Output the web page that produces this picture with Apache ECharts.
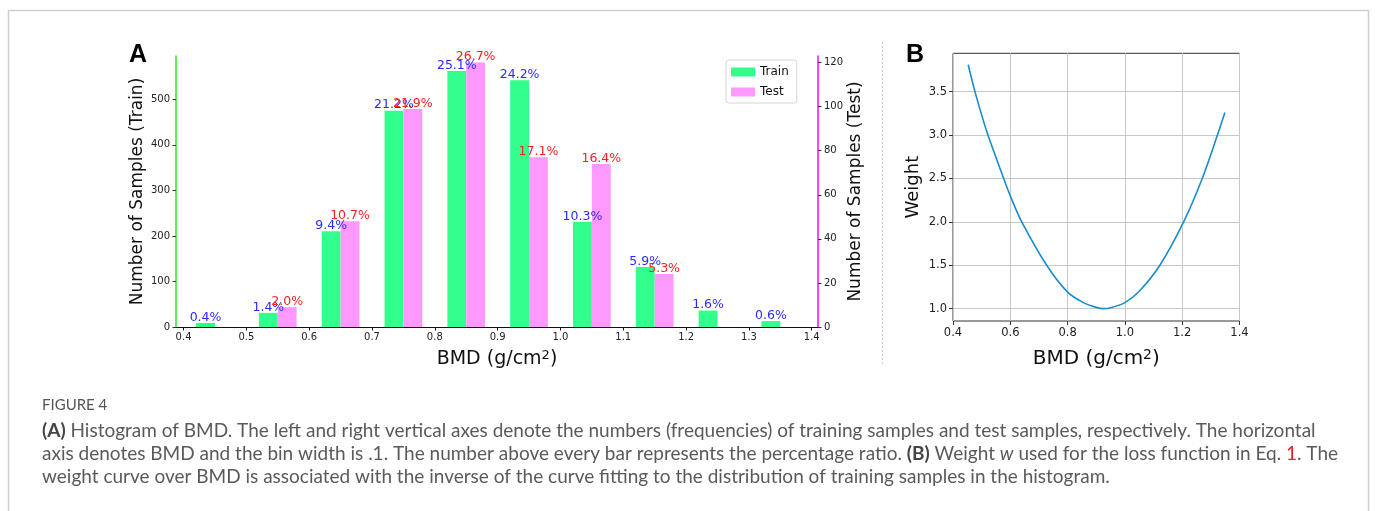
<!DOCTYPE html>
<html>
<head>
<meta charset="utf-8">
<script src="https://cdn.jsdelivr.net/npm/echarts@6/dist/echarts.min.js"></script>
<style>
html,body{margin:0;padding:0;background:#fff;}
#c{width:1375px;height:511px;}
</style>
</head>
<body>
<div id="c"></div>
<script>
// ---- Data (panel A) ----
const binStarts   = [0.4, 0.5, 0.6, 0.7, 0.8, 0.9, 1.0, 1.1, 1.2, 1.3];
const trainCounts = [9, 31, 210, 475, 562, 542, 231, 132, 36, 13];
const trainPct    = ['0.4%', '1.4%', '9.4%', '21.2%', '25.1%', '24.2%', '10.3%', '5.9%', '1.6%', '0.6%'];
const testBins    = [0.5, 0.6, 0.7, 0.8, 0.9, 1.0, 1.1];
const testCounts  = [9, 48, 99, 120, 77, 74, 24];
const testPct     = ['2.0%', '10.7%', '21.9%', '26.7%', '17.1%', '16.4%', '5.3%'];
const xTicksA     = [0.4, 0.5, 0.6, 0.7, 0.8, 0.9, 1.0, 1.1, 1.2, 1.3, 1.4];
const yTicksTrain = [0, 100, 200, 300, 400, 500];
const yTicksTest  = [0, 20, 40, 60, 80, 100, 120];

// ---- Data (panel B) ----
const bmdB    = [0.453, 0.48, 0.52, 0.577, 0.6, 0.64, 0.727, 0.8, 0.855, 0.9, 0.924, 0.95, 1.0, 1.05, 1.122, 1.205, 1.27, 1.323, 1.349];
const weightB = [3.81, 3.46, 3.02, 2.5, 2.3, 2.0, 1.5, 1.19, 1.07, 1.015, 1.0, 1.01, 1.07, 1.2, 1.5, 2.0, 2.5, 3.0, 3.26];
const yTicksB = [1.0, 1.5, 2.0, 2.5, 3.0, 3.5];

const GREEN = '#33ff8c', PINK = '#ff99ff';
const FONT = 'DejaVu Sans';

function barRenderer(off0, off1, labels, labelColor) {
  return function (params, api) {
    const b = api.value(0), v = api.value(1);
    const p0 = api.coord([b + off0, v]);
    const p1 = api.coord([b + off1, 0]);
    return {
      type: 'group',
      children: [
        { type: 'rect', shape: { x: p0[0], y: p0[1], width: p1[0] - p0[0], height: p1[1] - p0[1] },
          style: { fill: api.visual('color') } },
        { type: 'text', z2: 10,
          style: { text: labels[params.dataIndex], x: (p0[0] + p1[0]) / 2, y: p0[1] + 1,
                   align: 'center', verticalAlign: 'bottom', fill: labelColor,
                   font: '12.5px "' + FONT + '"' } }
      ]
    };
  };
}

const chart = echarts.init(document.getElementById('c'), null, { renderer: 'canvas' });

const bmdName = '{n|BMD (g/cm}{s|2}{n|)}';
const bmdRich = (fs) => ({ n: { fontSize: fs, fontFamily: FONT, color: '#111' },
                           s: { fontSize: Math.round(fs * 0.7), fontFamily: FONT, color: '#111', verticalAlign: 'top', padding: [0, 0, 8, 0] } });
const CAP = '19px Lato';

chart.setOption({
  animation: false,
  textStyle: { fontFamily: FONT },
  grid: [
    { left: 176, right: 1375 - 818, top: 56, bottom: 511 - 327, containLabel: false },
    { left: 953, right: 1375 - 1239.5, top: 53.3, bottom: 511 - 321, show: true, borderColor: '#333', borderWidth: 1, backgroundColor: 'transparent' }
  ],
  legend: {
    left: 726, top: 60, orient: 'vertical',
    data: ['Train', 'Test'],
    icon: 'rect', itemWidth: 24, itemHeight: 9, itemGap: 8,
    padding: [6, 8, 5, 5],
    borderColor: '#d5d5d5', borderWidth: 1, borderRadius: 3,
    textStyle: { fontSize: 12, fontFamily: FONT, color: '#111' }
  },
  xAxis: [
    { gridIndex: 0, type: 'value', min: 0.388, max: 1.41,
      axisLine: { show: true, lineStyle: { color: '#111', width: 1 } },
      axisTick: { show: true, length: 3.5, customValues: xTicksA, lineStyle: { color: '#111' } },
      axisLabel: { customValues: xTicksA, fontSize: 10, color: '#222', margin: 5, formatter: v => v.toFixed(1) },
      splitLine: { show: false },
      name: bmdName, nameLocation: 'middle', nameGap: 22,
      nameTextStyle: { rich: bmdRich(19) } },
    { gridIndex: 1, type: 'value', min: 0.4, max: 1.4, interval: 0.2,
      axisLine: { show: false },
      axisTick: { show: true, length: 4, lineStyle: { color: '#333' } },
      axisLabel: { fontSize: 11.5, color: '#222', margin: 6, formatter: v => v.toFixed(1) },
      splitLine: { show: true, lineStyle: { color: '#c8c8c8', width: 1 } },
      name: bmdName, nameLocation: 'middle', nameGap: 27,
      nameTextStyle: { rich: bmdRich(20) } }
  ],
  yAxis: [
    { gridIndex: 0, type: 'value', min: 0, max: 595, position: 'left',
      axisLine: { show: true, lineStyle: { color: '#22ee22', width: 1.5 } },
      axisTick: { show: true, length: 3.5, customValues: yTicksTrain, lineStyle: { color: '#333' } },
      axisLabel: { customValues: yTicksTrain, fontSize: 10, color: '#222', margin: 6 },
      splitLine: { show: false },
      name: 'Number of Samples (Train)', nameLocation: 'middle', nameGap: 30,
      nameTextStyle: { fontSize: 17, color: '#111', fontFamily: FONT } },
    { gridIndex: 0, type: 'value', min: 0, max: 123, position: 'right',
      axisLine: { show: true, lineStyle: { color: '#ff00ff', width: 1.5 } },
      axisTick: { show: true, length: 3.5, customValues: yTicksTest, lineStyle: { color: '#333' } },
      axisLabel: { customValues: yTicksTest, fontSize: 10, color: '#222', margin: 6 },
      splitLine: { show: false },
      name: 'Number of Samples (Test)', nameLocation: 'middle', nameGap: 29,
      nameTextStyle: { fontSize: 17, color: '#111', fontFamily: FONT } },
    { gridIndex: 1, type: 'value', min: 0.858, max: 3.942,
      axisLine: { show: false },
      axisTick: { show: true, length: 4, customValues: yTicksB, lineStyle: { color: '#333' } },
      axisLabel: { customValues: yTicksB, fontSize: 11.5, color: '#222', margin: 6, formatter: v => v.toFixed(1) },
      splitLine: { show: true, lineStyle: { color: '#c8c8c8', width: 1 } },
      name: 'Weight', nameLocation: 'middle', nameGap: 31,
      nameTextStyle: { fontSize: 18, color: '#111', fontFamily: FONT } }
  ],
  series: [
    { name: 'Train', type: 'custom', xAxisIndex: 0, yAxisIndex: 0,
      itemStyle: { color: GREEN },
      renderItem: barRenderer(0.02, 0.05, trainPct, '#2b2bff'),
      encode: { x: 0, y: 1 },
      data: binStarts.map((b, i) => [b, trainCounts[i]]) },
    { name: 'Test', type: 'custom', xAxisIndex: 0, yAxisIndex: 1,
      itemStyle: { color: PINK },
      renderItem: barRenderer(0.05, 0.08, testPct, '#ff2020'),
      encode: { x: 0, y: 1 },
      data: testBins.map((b, i) => [b, testCounts[i]]) },
    { name: 'Weight', type: 'line', xAxisIndex: 1, yAxisIndex: 2,
      smooth: 0.3, showSymbol: false, symbol: 'none',
      lineStyle: { color: '#1a8ccc', width: 1.6 },
      data: bmdB.map((x, i) => [x, weightB[i]]) }
  ],
  graphic: [
    { type: 'rect', shape: { x: 8.5, y: 10.5, width: 1360, height: 520 },
      style: { fill: 'none', stroke: '#cfcfcf', lineWidth: 1.5 }, silent: true },
    { type: 'line', shape: { x1: 882.5, y1: 42, x2: 882.5, y2: 366 },
      style: { stroke: '#d0d0d0', lineWidth: 1, lineDash: [2, 2] } },
    { type: 'text', left: 129, top: 43,
      style: { text: 'A', font: 'bold 25px "Liberation Sans"', fill: '#000' } },
    { type: 'text', left: 906, top: 43,
      style: { text: 'B', font: 'bold 25px "Liberation Sans"', fill: '#000' } },
    { type: 'text', left: 42, top: 398,
      style: { text: 'FIGURE 4', font: '15px Lato', fill: '#555' } },
    { type: 'text', left: 42, top: 421,
      style: { text: '{b|(A)} Histogram of BMD. The left and right vertical axes denote the numbers (frequencies) of training samples and test samples, respectively. The horizontal',
               font: CAP, fill: '#5a5a5a',
               rich: { b: { fontWeight: 'bold', fontFamily: 'Lato', fontSize: 19, fill: '#444' } } } },
    { type: 'text', left: 42, top: 444,
      style: { text: 'axis denotes BMD and the bin width is .1. The number above every bar represents the percentage ratio. {b|(B)} Weight {i|w} used for the loss function in Eq. {r|1}. The',
               font: CAP, fill: '#5a5a5a',
               rich: { b: { fontWeight: 'bold', fontFamily: 'Lato', fontSize: 19, fill: '#444' },
                       i: { fontStyle: 'italic', fontFamily: 'Lato', fontSize: 19, fill: '#5a5a5a' },
                       r: { fontFamily: 'Lato', fontSize: 19, fill: '#e8211a' } } } },
    { type: 'text', left: 42, top: 467,
      style: { text: 'weight curve over BMD is associated with the inverse of the curve fitting to the distribution of training samples in the histogram.',
               font: CAP, fill: '#5a5a5a' } }
  ]
});
</script>
</body>
</html>
